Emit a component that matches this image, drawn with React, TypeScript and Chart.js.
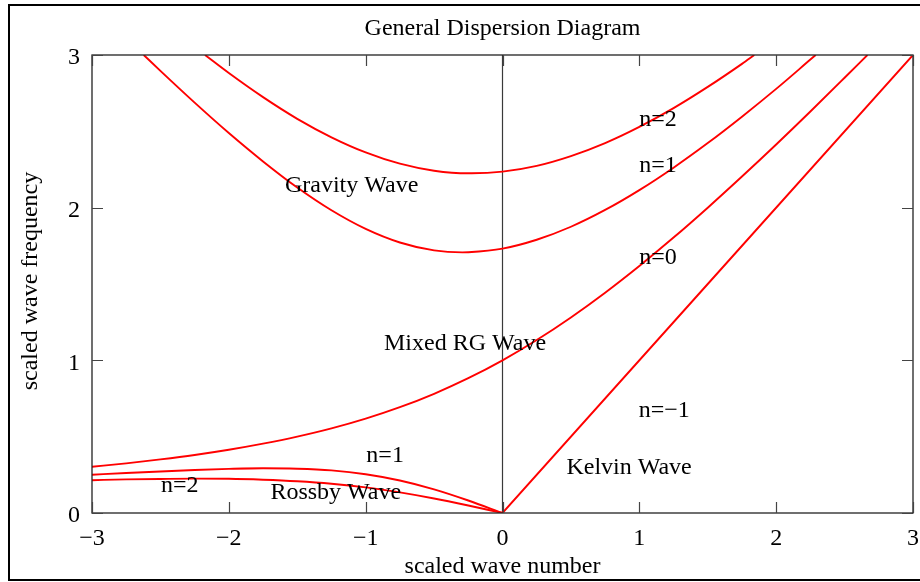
import { useEffect, useRef } from "react";
import { Chart, registerables } from "chart.js";

Chart.register(...registerables);

const FONT = '"Liberation Serif", "Times New Roman", serif';

// Axis ticks
const waveNumberTicks = [-3, -2, -1, 0, 1, 2, 3];
const frequencyTicks = [0, 1, 2, 3];

// Gravity wave, n=2
const gravityN2K = [-2.174, -2.0, -1.75, -1.5, -1.25, -1.0, -0.75, -0.5, -0.25, -0.225, 0, 0.25, 0.5, 0.75, 1.0, 1.25, 1.5, 1.75, 1.84];
const gravityN2W = [3.0, 2.882, 2.724, 2.582, 2.461, 2.362, 2.288, 2.242, 2.225, 2.225, 2.236, 2.274, 2.338, 2.423, 2.529, 2.652, 2.791, 2.942, 3.0];

// Gravity wave, n=1
const gravityN1K = [-2.622, -2.5, -2.25, -2.0, -1.75, -1.5, -1.25, -1.0, -0.75, -0.5, -0.293, -0.25, 0, 0.25, 0.5, 0.75, 1.0, 1.25, 1.5, 1.75, 2.0, 2.25, 2.289];
const gravityN1W = [3.0, 2.896, 2.688, 2.489, 2.303, 2.132, 1.983, 1.861, 1.772, 1.72, 1.707, 1.708, 1.732, 1.79, 1.875, 1.985, 2.115, 2.262, 2.423, 2.596, 2.778, 2.97, 3.0];

// Mixed Rossby-gravity wave, n=0
const mixedK = [-3, -2.75, -2.5, -2.25, -2, -1.75, -1.5, -1.25, -1, -0.75, -0.5, -0.25, 0, 0.25, 0.5, 0.75, 1, 1.25, 1.5, 1.75, 2, 2.25, 2.5, 2.667];
const mixedW = [0.303, 0.325, 0.351, 0.38, 0.414, 0.454, 0.5, 0.554, 0.618, 0.693, 0.781, 0.883, 1.0, 1.133, 1.281, 1.443, 1.618, 1.804, 2.0, 2.204, 2.414, 2.63, 2.851, 3.0];

// Rossby waves, n=1 and n=2
const rossbyK = [-3, -2.75, -2.5, -2.25, -2, -1.75, -1.5, -1.25, -1, -0.75, -0.5, -0.25, 0];
const rossbyN1W = [0.251, 0.262, 0.272, 0.282, 0.289, 0.293, 0.29, 0.279, 0.254, 0.213, 0.155, 0.082, 0];
const rossbyN2W = [0.215, 0.22, 0.223, 0.225, 0.224, 0.218, 0.208, 0.192, 0.168, 0.135, 0.095, 0.049, 0];

// Kelvin wave, n=-1
const kelvinK = [0, 3];
const kelvinW = [0, 3];

// Zero wave-number axis
const zeroAxisK = [0, 0];
const zeroAxisW = [0, 3];

// Curve labels placed in data coordinates (left edge, text baseline)
const curveLabels = [
  { text: "Gravity Wave", k: -1.59, w: 2.1 },
  { text: "n=2", k: 1.0, w: 2.535 },
  { text: "n=1", k: 1.0, w: 2.233 },
  { text: "n=0", k: 1.0, w: 1.631 },
  { text: "Mixed RG Wave", k: -0.866, w: 1.068 },
  { text: "n=\u22121", k: 0.995, w: 0.631 },
  { text: "Kelvin Wave", k: 0.467, w: 0.255 },
  { text: "n=1", k: -0.995, w: 0.332 },
  { text: "n=2", k: -2.496, w: 0.136 },
  { text: "Rossby Wave", k: -1.696, w: 0.092 },
];

const TITLE = "General Dispersion Diagram";
const X_TITLE = "scaled wave number";
const Y_TITLE = "scaled wave frequency";

const pts = (xs: number[], ys: number[]) => xs.map((x, i) => ({ x, y: ys[i] }));

const fmt = (v: number) => (v < 0 ? "\u2212" + Math.abs(v) : String(v));

const decorations = {
  id: "decorations",
  beforeDraw(chart: any) {
    const ctx = chart.ctx;
    ctx.save();
    ctx.fillStyle = "#ffffff";
    ctx.fillRect(0, 0, chart.width, chart.height);
    // outer frame
    ctx.strokeStyle = "#000000";
    ctx.lineWidth = 2;
    ctx.strokeRect(9, 5, chart.width + 20, 575);
    ctx.restore();
  },
  afterDatasetsDraw(chart: any) {
    const ctx = chart.ctx;
    const { left, right, top, bottom } = chart.chartArea;
    const xs = chart.scales.x;
    const ys = chart.scales.y;
    ctx.save();
    // plot border
    ctx.strokeStyle = "#222222";
    ctx.lineWidth = 1.3;
    ctx.strokeRect(left, top, right - left, bottom - top);
    // inward tick marks
    ctx.strokeStyle = "#444444";
    ctx.lineWidth = 1.2;
    const tl = 11;
    ctx.beginPath();
    waveNumberTicks.forEach((v) => {
      const px = Math.round(xs.getPixelForValue(v)) + 0.5;
      ctx.moveTo(px, bottom);
      ctx.lineTo(px, bottom - tl);
      ctx.moveTo(px, top);
      ctx.lineTo(px, top + tl);
    });
    frequencyTicks.forEach((v) => {
      const py = Math.round(ys.getPixelForValue(v)) + 0.5;
      ctx.moveTo(left, py);
      ctx.lineTo(left + tl, py);
      ctx.moveTo(right, py);
      ctx.lineTo(right - tl, py);
    });
    ctx.stroke();

    // curve labels
    ctx.fillStyle = "#000000";
    ctx.font = `24px ${FONT}`;
    ctx.textAlign = "left";
    ctx.textBaseline = "alphabetic";
    curveLabels.forEach((l) => {
      ctx.fillText(l.text, xs.getPixelForValue(l.k), ys.getPixelForValue(l.w));
    });

    // titles
    ctx.textAlign = "center";
    const cx = (left + right) / 2;
    ctx.fillText(TITLE, cx, 35);
    ctx.fillText(X_TITLE, cx, 573);
    ctx.translate(37, (top + bottom) / 2 - 3);
    ctx.rotate(-Math.PI / 2);
    ctx.fillText(Y_TITLE, 0, 0);
    ctx.restore();
  },
};

export default function App() {
  const ref = useRef<HTMLCanvasElement | null>(null);

  useEffect(() => {
    if (!ref.current) return;
    const red = "#ff0000";
    const curve = (data: { x: number; y: number }[]) => ({
      data,
      borderColor: red,
      borderWidth: 1.9,
      pointRadius: 0,
      fill: false,
      cubicInterpolationMode: "monotone" as const,
    });
    const chart = new Chart(ref.current, {
      type: "line",
      data: {
        datasets: [
          curve(pts(gravityN2K, gravityN2W)),
          curve(pts(gravityN1K, gravityN1W)),
          curve(pts(mixedK, mixedW)),
          curve(pts(rossbyK, rossbyN1W)),
          curve(pts(rossbyK, rossbyN2W)),
          curve(pts(kelvinK, kelvinW)),
          {
            data: pts(zeroAxisK, zeroAxisW),
            borderColor: "#3a3a3a",
            borderWidth: 1.2,
            pointRadius: 0,
            fill: false,
          },
        ],
      },
      options: {
        responsive: false,
        animation: false,
        devicePixelRatio: 1,
        layout: { padding: { top: 55, right: 7, bottom: 0, left: 0 } },
        plugins: {
          legend: { display: false },
          title: { display: false },
          tooltip: { enabled: false },
        },
        scales: {
          x: {
            type: "linear",
            min: -3,
            max: 3,
            afterBuildTicks: (s: any) => {
              s.ticks = waveNumberTicks.map((v) => ({ value: v }));
            },
            afterFit: (s: any) => {
              s.height = 69;
              s.paddingLeft = 0;
              s.paddingRight = 0;
            },
            grid: { display: false, drawTicks: false },
            border: { display: false },
            ticks: {
              padding: 11,
              color: "#000000",
              font: { family: FONT, size: 24 },
              maxRotation: 0,
              callback: (v: any) => fmt(Number(v)),
            },
          },
          y: {
            type: "linear",
            min: 0,
            max: 3,
            afterBuildTicks: (s: any) => {
              s.ticks = frequencyTicks.map((v) => ({ value: v }));
            },
            afterFit: (s: any) => {
              s.width = 92;
              s.paddingTop = 0;
              s.paddingBottom = 0;
            },
            grid: { display: false, drawTicks: false },
            border: { display: false },
            ticks: {
              padding: 12,
              labelOffset: 3,
              color: "#000000",
              font: { family: FONT, size: 24 },
              callback: (v: any) => fmt(Number(v)),
            },
          },
        },
      },
      plugins: [decorations],
    });
    return () => chart.destroy();
  }, []);

  return (
    <div style={{ position: "fixed", left: 0, top: 0, width: 920, height: 582 }}>
      <canvas ref={ref} width={920} height={582} style={{ display: "block" }} />
    </div>
  );
}
